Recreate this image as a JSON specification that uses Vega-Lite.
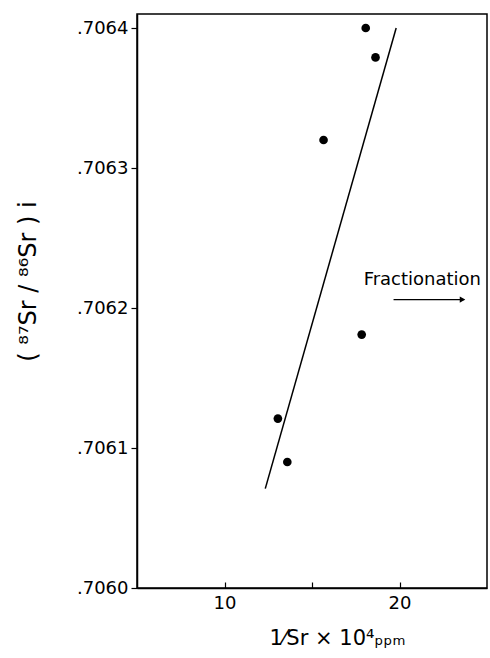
{
  "$schema": "https://vega.github.io/schema/vega-lite/v6.json",
  "width": 350,
  "height": 574,
  "autosize": "none",
  "padding": {"left": 137, "top": 14, "right": 3, "bottom": 70},
  "background": "white",
  "config": {
    "view": {"stroke": "black", "strokeWidth": 1.5},
    "font": "DejaVu Sans",
    "axis": {"grid": false, "domainColor": "black", "tickColor": "black", "labelColor": "black", "titleColor": "black", "labelFont": "DejaVu Sans", "titleFont": "DejaVu Sans", "titleFontWeight": "normal"}
  },
  "datasets": {
    "pts": [
      {"x": 18.07, "y": 0.70640},
      {"x": 18.63, "y": 0.706379},
      {"x": 15.66, "y": 0.70632},
      {"x": 17.84, "y": 0.706181},
      {"x": 13.05, "y": 0.706121},
      {"x": 13.59, "y": 0.70609}
    ],
    "fit": [
      {"x": 12.33, "y": 0.706071},
      {"x": 19.81, "y": 0.70640}
    ],
    "arrow": [
      {"x": 19.66, "y": 0.706206},
      {"x": 23.7, "y": 0.706206}
    ],
    "arrowhead": [
      {"x": 23.6, "y": 0.706206}
    ],
    "note": [
      {"x": 17.95, "y": 0.70622, "t": "Fractionation"}
    ]
  },
  "layer": [
    {
      "data": {"name": "fit"},
      "mark": {"type": "line", "color": "black", "strokeWidth": 1.5},
      "encoding": {
        "x": {"field": "x", "type": "quantitative", "scale": {"domain": [5, 25], "nice": false, "zero": false},
          "axis": {"values": [10, 15, 20], "labelExpr": "datum.value == 15 ? '' : datum.label", "tickSize": -6, "labelPadding": 12, "labelFontSize": 18, "domainWidth": 1.5, "tickWidth": 1.2,
            "title": "1⁄Sr × 10⁴ₚₚₘ", "titleFontSize": 21, "titleX": 200, "titleY": 50, "titleAnchor": "middle", "titleBaseline": "middle"}},
        "y": {"field": "y", "type": "quantitative", "scale": {"domain": [0.7060, 0.70641], "nice": false, "zero": false},
          "axis": {"values": [0.7060, 0.7061, 0.7062, 0.7063, 0.7064], "labelExpr": "replace(format(datum.value, '.4f'), '0.', '.')", "tickSize": 6, "labelPadding": 3, "labelFontSize": 18, "domainWidth": 1.5, "tickWidth": 1.2,
            "title": "( ⁸⁷Sr  /  ⁸⁶Sr )  i", "titleFontSize": 24, "titleX": -109, "titleY": 267, "titleAngle": -90, "titleAnchor": "middle", "titleBaseline": "middle"}}
      }
    },
    {
      "data": {"name": "pts"},
      "mark": {"type": "point", "filled": true, "color": "black", "size": 75, "opacity": 1},
      "encoding": {
        "x": {"field": "x", "type": "quantitative"},
        "y": {"field": "y", "type": "quantitative"}
      }
    },
    {
      "data": {"name": "arrow"},
      "mark": {"type": "line", "color": "black", "strokeWidth": 1.3},
      "encoding": {
        "x": {"field": "x", "type": "quantitative"},
        "y": {"field": "y", "type": "quantitative"}
      }
    },
    {
      "data": {"name": "arrowhead"},
      "mark": {"type": "point", "shape": "triangle-right", "filled": true, "color": "black", "size": 40, "opacity": 1},
      "encoding": {
        "x": {"field": "x", "type": "quantitative"},
        "y": {"field": "y", "type": "quantitative"}
      }
    },
    {
      "data": {"name": "note"},
      "mark": {"type": "text", "align": "left", "baseline": "middle", "fontSize": 18, "color": "black", "clip": true},
      "encoding": {
        "x": {"field": "x", "type": "quantitative"},
        "y": {"field": "y", "type": "quantitative"},
        "text": {"field": "t"}
      }
    }
  ]
}
